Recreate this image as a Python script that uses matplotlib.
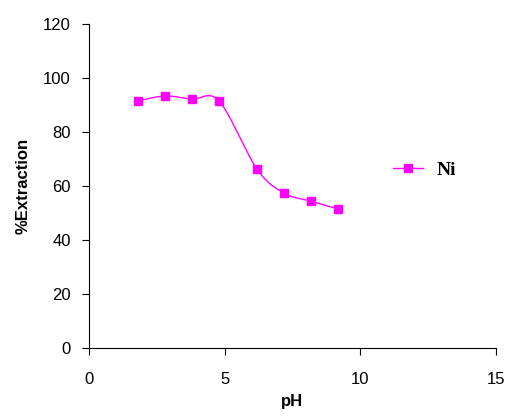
import numpy as np
import matplotlib.pyplot as plt

ph = [1.8, 2.8, 3.8, 4.8, 6.2, 7.2, 8.2, 9.2]
extraction = [91.5, 93.4, 92.2, 91.5, 66.3, 57.4, 54.4, 51.5]
series_label = 'Ni'


def smooth(x, y, n=30):
    # Catmull-Rom style smoothing, similar to Excel's smoothed line
    px = np.concatenate([[x[0]], x, [x[-1]]])
    py = np.concatenate([[y[0]], y, [y[-1]]])
    xs, ys = [], []
    t = np.linspace(0, 1, n)
    for i in range(1, len(px) - 2):
        p0, p1, p2, p3 = (np.array([px[j], py[j]]) for j in range(i - 1, i + 3))
        c1 = p1 + (p2 - p0) / 6
        c2 = p2 - (p3 - p1) / 6
        seg = ((1 - t) ** 3)[:, None] * p1 + (3 * (1 - t) ** 2 * t)[:, None] * c1 \
            + (3 * (1 - t) * t ** 2)[:, None] * c2 + (t ** 3)[:, None] * p2
        xs.extend(seg[:, 0])
        ys.extend(seg[:, 1])
    return xs, ys


fig = plt.figure(figsize=(5.08, 4.16), dpi=100)
ax = fig.add_axes([0.175, 0.163, 0.801, 0.779])

sx, sy = smooth(ph, extraction)
ax.plot(sx, sy, color='#ff00ff', lw=1.0)
ax.plot(ph, extraction, 's', color='#ff00ff', ms=5.5, ls='none')

# legend entry drawn as proxy
ax.plot([], [], color='#ff00ff', lw=1.0, marker='s', ms=5.5, label=series_label)
leg = ax.legend(loc='center left', bbox_to_anchor=(0.705, 0.55), frameon=False,
                handlelength=1.55, handletextpad=0.7,
                prop={'family': 'Liberation Serif', 'weight': 'bold', 'size': 14})

ax.set_xlim(0, 15)
ax.set_ylim(0, 120)
ax.set_xticks([0, 5, 10, 15])
ax.set_yticks(range(0, 121, 20))
for s in ['top', 'right']:
    ax.spines[s].set_visible(False)
ax.tick_params(direction='out', length=5, labelsize=12, pad=8)
ax.tick_params(axis='x', pad=12)
for lab in ax.get_xticklabels() + ax.get_yticklabels():
    lab.set_family('Liberation Sans')

ax.set_xlabel('pH', fontsize=12, fontweight='bold', family='Liberation Sans', labelpad=5)
ax.set_ylabel('%Extraction', fontsize=12, fontweight='bold', family='Liberation Sans', labelpad=9)

fig.savefig('out.png', dpi=100)
